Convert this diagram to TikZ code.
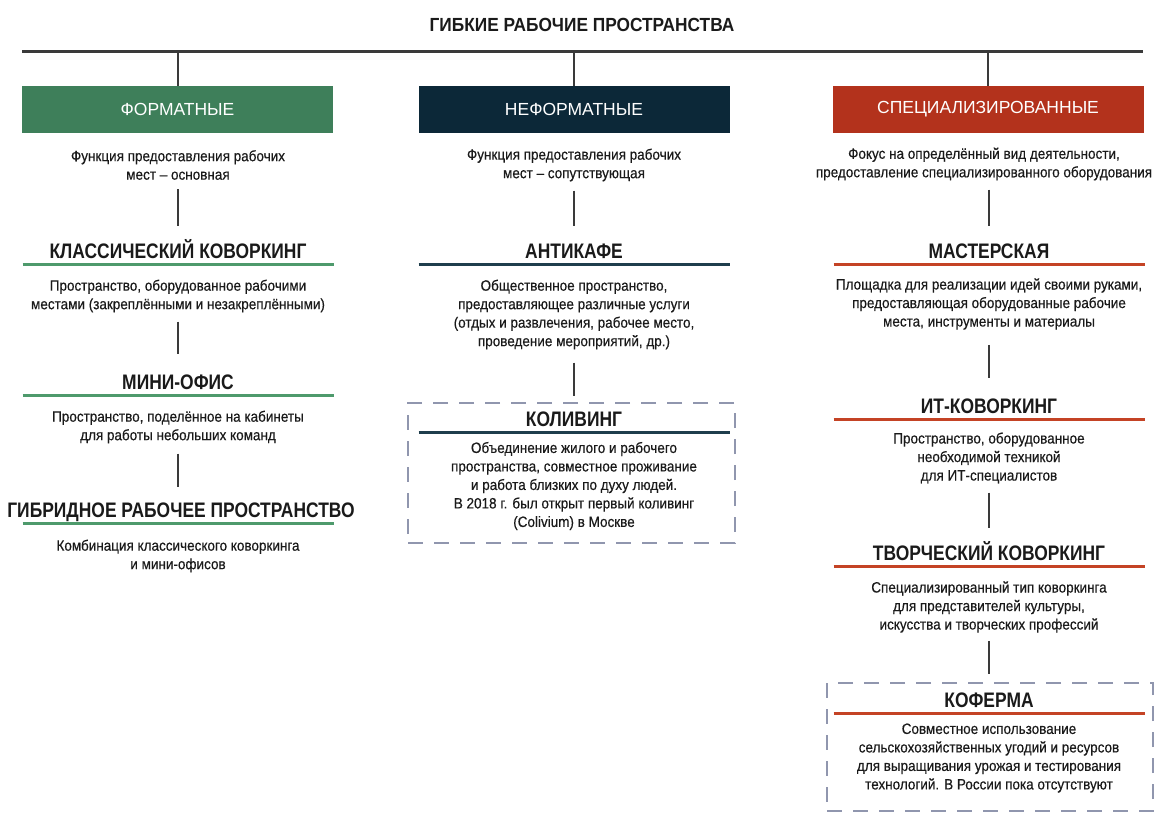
\documentclass[tikz,border=0pt]{standalone}
\usepackage{fontspec}
\setmainfont{Liberation Sans}
\newfontfamily\condfont[FakeStretch=0.83]{Liberation Sans}
\newfontfamily\titlefont[FakeStretch=0.91]{Liberation Sans}
\newfontfamily\descfont[FakeStretch=0.9, FakeBold=0.4]{Liberation Sans}
\definecolor{fmtgreen}{HTML}{3E7F5A}
\definecolor{nfnavy}{HTML}{0C2838}
\definecolor{spred}{HTML}{B3321C}
\definecolor{greenul}{HTML}{4E9A6C}
\definecolor{navyul}{HTML}{1F3E4D}
\definecolor{redul}{HTML}{C44325}
\definecolor{dashgray}{HTML}{9096AE}
\definecolor{txt}{HTML}{1A1A1A}
\definecolor{linegray}{HTML}{3A3A3A}

\begin{document}
\begin{tikzpicture}[x=1pt, y=-1pt,
      every node/.style = {inner sep=0pt, align=center, text=txt},
      title/.style = {anchor=base, font=\titlefont\bfseries\fontsize{19}{22}\selectfont},
      hdr/.style = {minimum width=311pt, minimum height=46.5pt, text=white,
        font=\fontsize{17.5}{20}\selectfont},
      head/.style = {anchor=base, text height=15pt, text depth=0pt,
        font=\condfont\bfseries\fontsize{21}{24}\selectfont},
      desc/.style = {font=\descfont\fontsize{15}{18.5}\selectfont},
      dbox/.style = {draw=dashgray, line width=2.5pt, dash pattern=on 15pt off 11pt},
      trunk/.style = {draw=linegray, line width=3pt},
      drop/.style = {draw=linegray, line width=2pt},
      link/.style = {draw=linegray, line width=2.5pt},
      ul/.style = {line width=3pt}]
    \useasboundingbox (0,0) rectangle (1160,814);

    \node[title] (ttl) at (582,31.5) {ГИБКИЕ РАБОЧИЕ ПРОСТРАНСТВА};
    \coordinate (tl) at (22,51.5);
    \coordinate (tr) at (1143,51.5);
    \draw[trunk] (tl) -- (tr);

    \node[hdr, fill=fmtgreen] (fmt) at (177.5,109.5) {\raisebox{-2pt}{ФОРМАТНЫЕ}};
    \node[hdr, fill=nfnavy] (nfmt) at (574,109.5) {\raisebox{-2pt}{НЕФОРМАТНЫЕ}};
    \node[hdr, fill=spred] (spec) at (988,109.5) {\raisebox{-2pt}{СПЕЦИАЛИЗИРОВАННЫЕ}};
    \foreach \h in {fmt, nfmt, spec}
      \draw[drop] (\h.north |- tl) -- (\h.north);

    \node[desc] (fmtd) at (178,165) {Функция предоставления рабочих\\мест – основная};
    \node[head] (klass) at (178,258) {КЛАССИЧЕСКИЙ КОВОРКИНГ};
    \node[desc] (klassd) at (178,296) {Пространство, оборудованное рабочими\\местами (закреплёнными и незакреплёнными)};
    \node[head] (mini) at (178,389) {МИНИ-ОФИС};
    \node[desc] (minid) at (178,427) {Пространство, поделённое на кабинеты\\для работы небольших команд};
    \node[head] (hybr) at (181,517) {ГИБРИДНОЕ РАБОЧЕЕ ПРОСТРАНСТВО};
    \node[desc] (hybrd) at (178,556) {Комбинация классического коворкинга\\и мини-офисов};

    \node[desc] (nfmtd) at (574,165) {Функция предоставления рабочих\\мест – сопутствующая};
    \node[head] (anti) at (574,258) {АНТИКАФЕ};
    \node[desc] (antid) at (574,314.5) {Общественное пространство,\\предоставляющее различные услуги\\(отдых и развлечения, рабочее место,\\проведение мероприятий, др.)};
    \node[dbox, minimum width=327pt, minimum height=140pt] (colbox) at (571.5,473) {};
    \node[head] (coliv) at (574,426) {КОЛИВИНГ};
    \node[desc] (colivd) at (574,486) {Объединение жилого и рабочего\\пространства, совместное проживание\\и работа близких по духу людей.\\В 2018 г. был открыт первый коливинг\\(Colivium) в Москве};

    \node[desc] (specd) at (984,164) {Фокус на определённый вид деятельности,\\предоставление специализированного оборудования};
    \node[head] (mast) at (989,258) {МАСТЕРСКАЯ};
    \node[desc] (mastd) at (989,304) {Площадка для реализации идей своими руками,\\предоставляющая оборудованные рабочие\\места, инструменты и материалы};
    \node[head] (itc) at (989,413) {ИТ-КОВОРКИНГ};
    \node[desc] (itcd) at (989,458) {Пространство, оборудованное\\необходимой техникой\\для ИТ-специалистов};
    \node[head] (tvor) at (989,560) {ТВОРЧЕСКИЙ КОВОРКИНГ};
    \node[desc] (tvord) at (989,607) {Специализированный тип коворкинга\\для представителей культуры,\\искусства и творческих профессий};
    \node[dbox, minimum width=326pt, minimum height=128pt] (farmbox) at (990,747) {};
    \node[head] (farm) at (989,707) {КОФЕРМА};
    \node[desc] (farmd) at (989,758) {Совместное использование\\сельскохозяйственных угодий и ресурсов\\для выращивания урожая и тестирования\\технологий. В России пока отсутствуют};

    \foreach \n/\x/\c in {klass/178/greenul, mini/178/greenul, hybr/178/greenul, anti/574/navyul,
        coliv/574/navyul, mast/989/redul, itc/989/redul, tvor/989/redul, farm/989/redul}
      \draw[ul, draw=\c] ([yshift=-6pt]\x-155.5,0 |- \n.base) -- ([yshift=-6pt]\x+155.5,0 |- \n.base);

    \draw[link, shorten <=9pt, shorten >=17pt] (fmtd) -- (klass);
    \draw[link, shorten <=9pt, shorten >=20pt] (klassd) -- (mini);
    \draw[link, shorten <=10pt, shorten >=15pt] (minid) -- (minid |- hybr.north);
    \draw[link, shorten <=9pt, shorten >=17pt] (nfmtd) -- (anti);
    \draw[link, shorten <=13pt, shorten >=6pt] (antid) -- (antid |- colbox.north);
    \draw[link, shorten <=9pt, shorten >=17pt] (specd.south -| mast) -- (mast);
    \draw[link, shorten <=15pt, shorten >=20pt] (mastd) -- (itc);
    \draw[link, shorten <=9pt, shorten >=17pt] (itcd) -- (tvor);
    \draw[link, shorten <=8pt, shorten >=8pt] (tvord) -- (tvord |- farmbox.north);
  \end{tikzpicture}
\end{document}
